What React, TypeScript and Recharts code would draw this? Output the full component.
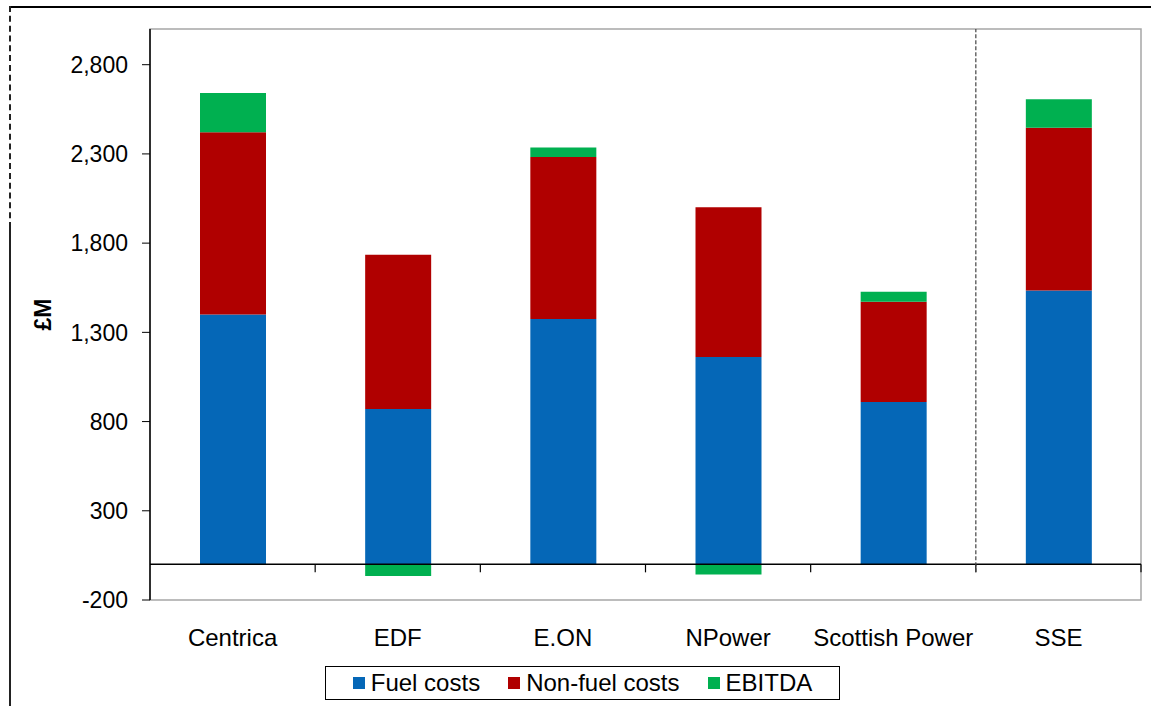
import React from 'react';
import {
  ComposedChart,
  Bar,
  XAxis,
  YAxis,
  ReferenceLine,
  ReferenceArea,
  Legend,
} from 'recharts';

// Supplier cost breakdown, £M
const companies = ['Centrica', 'EDF', 'E.ON', 'NPower', 'Scottish Power', 'SSE'];
const fuelCosts = [1400, 870, 1375, 1162, 909, 1534];
const nonFuelCosts = [1021, 865, 908, 839, 563, 912];
const ebitda = [220, -65, 53, -57, 56, 161];

const yTicks = [-200, 300, 800, 1300, 1800, 2300, 2800];
// category boundaries on the helper number axis (one unit per company)
const boundaries = [1, 2, 3, 4, 5, 6];

const seriesInfo = [
  { key: 'fuel', name: 'Fuel costs', color: '#0567B7' },
  { key: 'nonFuel', name: 'Non-fuel costs', color: '#B00000' },
  { key: 'ebitda', name: 'EBITDA', color: '#00B050' },
];

const data = companies.map((name, i) => ({
  name,
  pos: i + 0.5,
  fuel: fuelCosts[i],
  nonFuel: nonFuelCosts[i],
  ebitda: ebitda[i],
}));

const FONT = '"Liberation Sans", Arial, sans-serif';

const LegendBox = () => (
  <div
    style={{
      border: '1px solid #000',
      background: '#fff',
      height: 34,
      boxSizing: 'border-box',
      display: 'flex',
      alignItems: 'center',
      justifyContent: 'center',
      fontFamily: FONT,
      fontSize: 24,
      color: '#000',
      gap: 28,
    }}
  >
    {seriesInfo.map((s) => (
      <div key={s.key} style={{ display: 'flex', alignItems: 'center' }}>
        <span style={{ width: 12, height: 12, background: s.color, marginRight: 6 }} />
        <span>{s.name}</span>
      </div>
    ))}
  </div>
);

const AxisTitle = (props: any) => {
  const vb = props.viewBox || { x: 0, y: 0, width: 0, height: 0 };
  const cx = vb.x + 43;
  const cy = vb.y + vb.height / 2;
  return (
    <text
      x={cx}
      y={cy}
      transform={`rotate(-90, ${cx}, ${cy})`}
      textAnchor="middle"
      dominantBaseline="central"
      fontFamily={FONT}
      fontSize={23}
      fontWeight="bold"
      fill="#000"
    >
      £M
    </text>
  );
};

export default function App() {
  return (
    <div style={{ position: 'absolute', left: 0, top: 0, width: 1151, height: 706, background: '#fff' }}>
      {/* outer frame */}
      <div style={{ position: 'absolute', left: 9, top: 6, width: 1142, height: 0, borderTop: '2px solid #000' }} />
      <div style={{ position: 'absolute', left: 9, top: 6, width: 0, height: 222, borderLeft: '2px dashed #222' }} />
      <div style={{ position: 'absolute', left: 9, top: 228, width: 0, height: 478, borderLeft: '2px solid #222' }} />
      <ComposedChart
        width={1151}
        height={706}
        data={data}
        stackOffset="sign"
        margin={{ top: 29, right: 10, bottom: 0, left: 0 }}
        style={{ position: 'absolute', left: 0, top: 0 }}
      >
        <XAxis
          xAxisId="cat"
          dataKey="name"
          interval={0}
          axisLine={false}
          tickLine={false}
          tickSize={0}
          tickMargin={29}
          height={70}
          tick={{ fill: '#000', fontSize: 24, fontFamily: FONT }}
        />
        <XAxis xAxisId="grid" dataKey="pos" type="number" domain={[0, 6]} allowDataOverflow hide />
        <YAxis
          width={150}
          domain={[-200, 3000]}
          ticks={yTicks}
          allowDataOverflow
          tickFormatter={(v: number) => v.toLocaleString('en-US')}
          axisLine={{ stroke: '#000', strokeWidth: 1.5 }}
          tickLine={{ stroke: '#000' }}
          tickSize={8}
          tickMargin={14}
          tick={{ fill: '#000', fontSize: 23, fontFamily: FONT }}
          label={<AxisTitle />}
        />
        <ReferenceArea
          xAxisId="grid"
          x1={0}
          x2={6}
          y1={-200}
          y2={3000}
          ifOverflow="visible"
          fill="none"
          stroke="#A6A6A6"
          strokeWidth={1.5}
          fillOpacity={0}
        />
        {seriesInfo.map((s) => (
          <Bar
            key={s.key}
            xAxisId="cat"
            dataKey={s.key}
            name={s.name}
            stackId="costs"
            fill={s.color}
            barSize={66}
            isAnimationActive={false}
          />
        ))}
        <ReferenceLine xAxisId="grid" y={0} stroke="#000" strokeWidth={1.5} />
        {boundaries.map((b) => (
          <ReferenceLine
            key={`tick-${b}`}
            xAxisId="grid"
            ifOverflow="visible"
            segment={[
              { x: b, y: 0 },
              { x: b, y: -45 },
            ]}
            stroke="#000"
            strokeWidth={1.2}
          />
        ))}
        <ReferenceLine
          xAxisId="grid"
          ifOverflow="visible"
          segment={[
            { x: 5, y: -45 },
            { x: 5, y: 3000 },
          ]}
          stroke="#444"
          strokeWidth={1.2}
          strokeDasharray="4 2"
        />
        <Legend
          verticalAlign="bottom"
          content={<LegendBox />}
          wrapperStyle={{ left: 325, width: 515, height: 36, bottom: 4 }}
        />
      </ComposedChart>
    </div>
  );
}
